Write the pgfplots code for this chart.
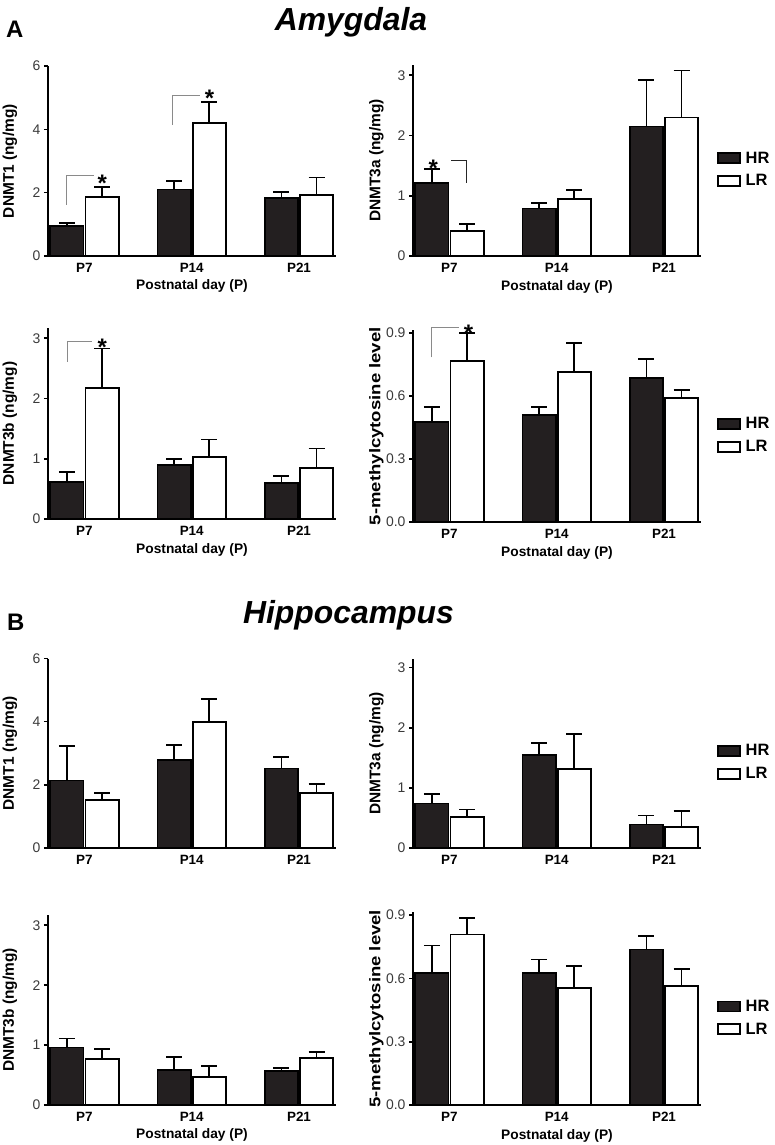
\documentclass[border=0pt]{standalone}
\usepackage{fontspec}
\setmainfont{Liberation Sans}
\usepackage{graphicx}
\usepackage{pgfplots}
\pgfplotsset{compat=1.18}
\definecolor{hr}{HTML}{231F20}
\definecolor{tl}{HTML}{3A3A3A}
\definecolor{brkc}{HTML}{8A8A8A}
\pgfplotsset{
 panel/.style={
  scale only axis, width=288bp,
  xmin=-0.34, xmax=2.345, ymin=0,
  axis x line*=bottom, axis y line*=left,
  axis line style={line width=1.8bp, black, -},
  xtick={0,1,2}, xticklabels={P7,P14,P21},
  x tick style={draw=none},
  major tick length=4bp,
  y tick style={line width=1.6bp, black},
  tick align=outside,
  /pgf/number format/assume math mode=true,
  y tick label style={font=\fontsize{14}{16}\selectfont, text=tl},
  x tick label style={font=\bfseries\fontsize{13.5}{15}\selectfont},
  xlabel={Postnatal day (P)},
  xlabel style={font=\bfseries\fontsize{13.8}{15}\selectfont, at={(axis description cs:0.5,-0.16)}, anchor=center},
  ylabel style={font=\bfseries\fontsize{15.5}{17}\selectfont, anchor=center},
  clip=false,
 },
 leftp/.style={panel, ylabel style={at={(axis description cs:-0.132,0.5)}}},
 rightp/.style={panel, ylabel style={at={(axis description cs:-0.127,0.5)}},
  legend style={draw=none, fill=none, at={(axis description cs:1.055,0.452)}, anchor=west,
   inner sep=0pt, outer sep=0pt, font=\bfseries\fontsize{16.5}{18}\selectfont,
   row sep=6bp, nodes={inner sep=2bp},
   /tikz/every odd column/.append style={column sep=3bp}},
  legend cell align=left},
 barbase/.style={ybar, bar width=0.31, bar shift=0pt, draw=black, line width=1.8bp,
  error bars/y dir=plus, error bars/y explicit,
  error bars/error bar style={line width=1.8bp, black},
  error bars/error mark options={rotate=90, line width=1.8bp, mark size=8bp, black},
  legend image code/.code={\draw[##1, line width=1.8bp] (0bp,-5bp) rectangle (22bp,5bp);}},
 hrbar/.style={barbase, fill=hr},
 lrbar/.style={barbase, fill=white},
 bracket/.style={forget plot, draw=brkc, line width=1bp, no markers},
 pct/.style={ytick={0,0.3,0.6,0.9}, yticklabel style={/pgf/number format/.cd, fixed, fixed zerofill, precision=1}},
}
\tikzset{star/.style={font=\bfseries\fontsize{24}{24}\selectfont, inner sep=0pt, yshift=-4.8bp}}
\begin{document}
\begin{tikzpicture}
\useasboundingbox (0,0) rectangle (775bp,-1145bp);
\node[anchor=base west, inner sep=0pt, font=\bfseries\fontsize{24}{24}\selectfont] at (6bp,-37bp) {A};
\node[anchor=base, inner sep=0pt, font=\bfseries\itshape\fontsize{32}{32}\selectfont] at (351bp,-30bp) {Amygdala};
\node[anchor=base west, inner sep=0pt, font=\bfseries\fontsize{24}{24}\selectfont] at (7bp,-630bp) {B};
\node[anchor=base, inner sep=0pt, font=\bfseries\itshape\fontsize{32}{32}\selectfont] at (348.5bp,-623bp) {Hippocampus};

% ---------- A: DNMT1
\begin{axis}[leftp, at={(48bp,-256bp)}, anchor=south west, height=190bp, ymax=6, ytick={0,2,4,6}, ylabel={DNMT1 (ng/mg)}]
\addplot[hrbar] coordinates {(-0.164,0.94) +- (0,0.11) (0.836,2.10) +- (0,0.28) (1.836,1.82) +- (0,0.21)};
\addplot[lrbar] coordinates {(0.164,1.86) +- (0,0.32) (1.164,4.20) +- (0,0.67) (2.164,1.93) +- (0,0.55)};
\addplot[bracket] coordinates {(-0.166,1.62) (-0.166,2.55) (0.092,2.55)};
\addplot[bracket] coordinates {(0.821,4.15) (0.821,5.07) (1.079,5.07)};
\node[star] at (axis cs:0.165,2.45) {*};
\node[star] at (axis cs:1.165,5.14) {*};
\end{axis}

% ---------- A: DNMT3a
\begin{axis}[rightp, at={(413bp,-256bp)}, anchor=south west, height=191bp, ymax=3.17, ytick={0,1,2,3}, ylabel={DNMT3a (ng/mg)}]
\addplot[hrbar] coordinates {(-0.164,1.21) +- (0,0.24) (0.836,0.79) +- (0,0.09) (1.836,2.15) +- (0,0.77)};
\addlegendentry{HR}
\addplot[lrbar] coordinates {(0.164,0.42) +- (0,0.11) (1.164,0.95) +- (0,0.15) (2.164,2.30) +- (0,0.78)};
\addlegendentry{LR}
\addplot[bracket, draw=black!85] coordinates {(0.016,1.58) (0.161,1.58) (0.161,1.21)};
\node[star] at (axis cs:-0.15,1.54) {*};
\end{axis}

% ---------- A: DNMT3b
\begin{axis}[leftp, at={(48bp,-519bp)}, anchor=south west, height=191bp, ymax=3.17, ytick={0,1,2,3}, ylabel={DNMT3b (ng/mg)}]
\addplot[hrbar] coordinates {(-0.164,0.62) +- (0,0.16) (0.836,0.89) +- (0,0.11) (1.836,0.60) +- (0,0.12)};
\addplot[lrbar] coordinates {(0.164,2.18) +- (0,0.65) (1.164,1.03) +- (0,0.29) (2.164,0.85) +- (0,0.32)};
\addplot[bracket] coordinates {(-0.161,2.61) (-0.161,2.94) (0.067,2.94)};
\node[star] at (axis cs:0.165,2.93) {*};
\end{axis}

% ---------- A: 5-mC
\begin{axis}[rightp, pct, at={(413bp,-522bp)}, anchor=south west, height=191.7bp, ymax=0.913, ylabel={\scalebox{1.2}[1]{5-methylcytosine level}}]
\addplot[hrbar] coordinates {(-0.164,0.475) +- (0,0.074) (0.836,0.511) +- (0,0.037) (1.836,0.687) +- (0,0.089)};
\addlegendentry{HR}
\addplot[lrbar] coordinates {(0.164,0.768) +- (0,0.132) (1.164,0.716) +- (0,0.136) (2.164,0.589) +- (0,0.040)};
\addlegendentry{LR}
\addplot[bracket] coordinates {(-0.165,0.784) (-0.165,0.924) (0.093,0.924)};
\node[star] at (axis cs:0.177,0.924) {*};
\end{axis}

% ---------- B: DNMT1
\begin{axis}[leftp, at={(48bp,-848bp)}, anchor=south west, height=189.5bp, ymax=6, ytick={0,2,4,6}, ylabel={DNMT1 (ng/mg)}, xlabel={}]
\addplot[hrbar] coordinates {(-0.164,2.14) +- (0,1.08) (0.836,2.78) +- (0,0.49) (1.836,2.52) +- (0,0.35)};
\addplot[lrbar] coordinates {(0.164,1.51) +- (0,0.24) (1.164,3.98) +- (0,0.75) (2.164,1.74) +- (0,0.28)};
\end{axis}

% ---------- B: DNMT3a
\begin{axis}[rightp, at={(413bp,-848bp)}, anchor=south west, height=189.4bp, ymax=3.15, ytick={0,1,2,3}, ylabel={DNMT3a (ng/mg)}, xlabel={}]
\addplot[hrbar] coordinates {(-0.164,0.74) +- (0,0.16) (0.836,1.55) +- (0,0.20) (1.836,0.39) +- (0,0.15)};
\addlegendentry{HR}
\addplot[lrbar] coordinates {(0.164,0.52) +- (0,0.12) (1.164,1.32) +- (0,0.57) (2.164,0.35) +- (0,0.26)};
\addlegendentry{LR}
\end{axis}

% ---------- B: DNMT3b
\begin{axis}[leftp, at={(48bp,-1105bp)}, anchor=south west, height=190bp, ymax=3.17, ytick={0,1,2,3}, ylabel={DNMT3b (ng/mg)}]
\addplot[hrbar] coordinates {(-0.164,0.96) +- (0,0.15) (0.836,0.59) +- (0,0.21) (1.836,0.57) +- (0,0.05)};
\addplot[lrbar] coordinates {(0.164,0.77) +- (0,0.16) (1.164,0.47) +- (0,0.18) (2.164,0.78) +- (0,0.10)};
\end{axis}

% ---------- B: 5-mC
\begin{axis}[rightp, pct, at={(413bp,-1105bp)}, anchor=south west, height=192.6bp, ymax=0.913, ylabel={\scalebox{1.2}[1]{5-methylcytosine level}}]
\addplot[hrbar] coordinates {(-0.164,0.627) +- (0,0.129) (0.836,0.627) +- (0,0.063) (1.836,0.737) +- (0,0.063)};
\addlegendentry{HR}
\addplot[lrbar] coordinates {(0.164,0.808) +- (0,0.079) (1.164,0.556) +- (0,0.104) (2.164,0.565) +- (0,0.079)};
\addlegendentry{LR}
\end{axis}
\end{tikzpicture}
\end{document}
